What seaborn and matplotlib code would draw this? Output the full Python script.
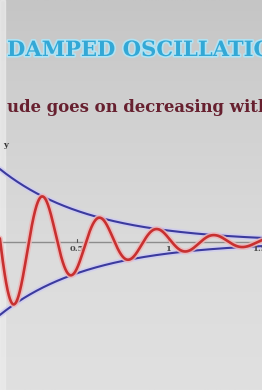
import numpy as np
import pandas as pd
import matplotlib
matplotlib.use("Agg")
import matplotlib.pyplot as plt
import matplotlib.patheffects as pe
import seaborn as sns

# ---- values ----
title_text = "DAMPED OSCILLATIONS"
subtitle_text = "Amplitude goes on decreasing with time"
tick_values = [0.5, 1.0, 1.5]
tick_labels = ["0.5", "1", "1.5"]
amplitude = 1.0          # envelope height at t = 0 (relative)
damping_rate = 2.0       # envelope ~ exp(-2 t)
angular_freq = 20.0      # peaks every ~0.314 in t
t_min, t_max = 0.0, 1.6

sns.set_theme(style="white")
plt.rcParams["font.family"] = ["DejaVu Serif", "DejaVu Sans"]

t = np.linspace(t_min, t_max, 1200)
env = amplitude * np.exp(-damping_rate * t)
df = pd.DataFrame({"t": t, "upper": env, "lower": -env,
                   "y": env * np.cos(angular_freq * t)})

W, H = 262, 390
fig = plt.figure(figsize=(W / 100, H / 100), dpi=100)

# background gradient
bg = fig.add_axes([0, 0, 1, 1])
grad = np.linspace(0, 1, 256)[:, None]
cmap = matplotlib.colors.LinearSegmentedColormap.from_list(
    "bg", ["#c5c5c5", "#d2d2d2", "#dcdcdc", "#e0e0e0"])
bg.imshow(grad, aspect="auto", cmap=cmap, extent=[0, 1, 0, 1], origin="upper")
bg.axvspan(0, 5 / W, color="#ececec", alpha=0.7)
bg.set_xlim(0, 1); bg.set_ylim(0, 1)
bg.axis("off")

ax = fig.add_axes([0, 0, 1, 1])
ax.patch.set_alpha(0)
px_per_t = 182.0
x0_px = -14.0
px_per_amp = 85.0
axis_px = 242.0
ax.set_xlim((0 - x0_px) / px_per_t, (W - x0_px) / px_per_t)
ax.set_ylim((axis_px - H) / px_per_amp, axis_px / px_per_amp)

ax.axhline(0, color="#8c8c8c", lw=1.0, zorder=1)

glow_blue = [pe.Stroke(linewidth=4.0, foreground="#cfcdf0", alpha=0.85), pe.Normal()]
glow_red = [pe.Stroke(linewidth=4.2, foreground="#eeb7b7", alpha=0.85), pe.Normal()]
sns.lineplot(data=df, x="t", y="upper", ax=ax, color="#3b3a9e", lw=1.5,
             path_effects=glow_blue, zorder=3, sort=False)
sns.lineplot(data=df, x="t", y="lower", ax=ax, color="#3b3a9e", lw=1.5,
             path_effects=glow_blue, zorder=3, sort=False)
sns.lineplot(data=df, x="t", y="y", ax=ax, color="#c83030", lw=1.9,
             path_effects=glow_red, zorder=4, sort=False)

for tv, tl in zip(tick_values, tick_labels):
    ax.plot([tv, tv], [0.0, 0.04], color="#555555", lw=0.8, zorder=2)
    ax.text(tv, -0.04, tl, ha="center", va="top", fontsize=6,
            color="#4a4a4a", fontweight="bold")

ax.axis("off")

fig.text(7 / W, 1 - 50 / H, title_text, ha="left", va="center",
         fontsize=15.2, fontweight="bold", color="#33a8d6",
         path_effects=[pe.Stroke(linewidth=2.4, foreground="#b2e2f2"), pe.Normal()])

fig.text(7 / W, 1 - 108 / H, subtitle_text[6:], ha="left", va="center",
         fontsize=11.9, fontweight="bold", color="#67202f")

fig.text(3 / W, 1 - 145 / H, "y", ha="left", va="center", fontsize=6,
         color="#333333", fontweight="bold")

fig.savefig("out.png", dpi=100)
